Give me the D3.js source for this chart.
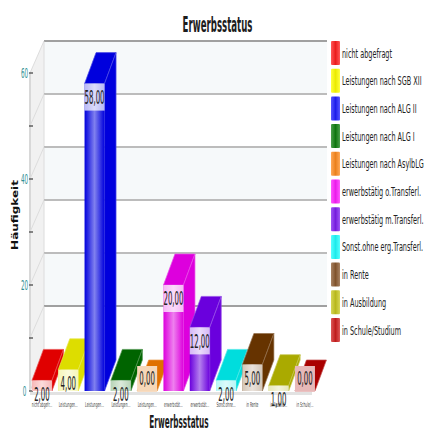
<!DOCTYPE html>
<html><head><meta charset="utf-8">
<script src="https://cdnjs.cloudflare.com/ajax/libs/d3/7.8.5/d3.min.js"></script>
<style>html,body{margin:0;padding:0;background:#fff}svg{display:block}text{font-family:"DejaVu Sans",sans-serif}</style>
</head><body><div id="chart"></div>
<script>
const categories = ["nicht abgefragt","Leistungen nach SGB XII","Leistungen nach ALG II","Leistungen nach ALG I","Leistungen nach AsylbLG","erwerbstätig o.Transferl.","erwerbstätig m.Transferl.","Sonst.ohne erg.Transferl.","in Rente","in Ausbildung","in Schule/Studium"];
const shortLabels = ["nicht abgefr...","Leistungen...","Leistungen...","Leistungen...","Leistungen...","erwerbstät...","erwerbstät...","Sonst.ohne...","in Rente","in Ausbild...","in Schule/..."];
const values = [2,4,58,2,0,20,12,2,5,1,0];
const barColors = ["#e00000","#dddd00","#0000dd","#006400","#e07000","#dd00dd","#6a00dd","#00dddd","#663300","#aaaa00","#aa0000"];
const swatchColors = ["#ff2020","#ffff00","#2020ff","#108010","#ff8c20","#ff20ff","#8020f0","#20ffff","#8b5a30","#c8c820","#d02020"];
const yTicks = [0,20,40,60];
const yMinorTicks = [10,30,50];
const bands = [[50,60],[30,40],[10,20]];
const gridValues = [10,20,30,40,50,60];

const W = 424, H = 432;
const svg = d3.select("#chart").append("svg").attr("width",W).attr("height",H);
const defs = svg.append("defs");

const y = d3.scaleLinear().domain([0,60]).range([391,73]);
const x = d3.scaleBand().domain(categories).range([28.8,318.1]).paddingInner(0.24).paddingOuter(0.12);
const legendY = d3.scalePoint().domain(categories).range([41,318]);

// box depth: how far back faces shift from the front plane
const wallDx = 14, wallDy = -32, barDx = 11.5, barDy = -31;
const wallLeft = 30, wallRight = 327 - wallDx;

// horizontally squeezed text, anchored at (px,py)
function label(parent, str, px, py, size, sx, opts={}) {
  return parent.append("text")
    .attr("transform",`translate(${px},${py}) rotate(${opts.rotate||0}) scale(${sx},1)`)
    .attr("text-anchor",opts.anchor||"middle")
    .attr("dominant-baseline","central")
    .attr("font-size",size)
    .attr("font-weight",opts.weight||"normal")
    .attr("fill",opts.fill||"#222")
    .text(str);
}

categories.forEach((c,i)=>{
  const col = barColors[i];
  const g = defs.append("linearGradient").attr("id","front"+i);
  const light = d3.interpolateRgb(col,"#fff")(0.5);
  [[0,col],[0.5,light],[1,col]].forEach(([o,k])=>g.append("stop").attr("offset",o).attr("stop-color",k));
  const s = defs.append("linearGradient").attr("id","swatch"+i);
  const sw = swatchColors[i];
  const pale = d3.interpolateRgb(sw,"#fff")(0.25);
  [[0,pale],[0.5,d3.interpolateRgb(sw,"#000")(0.08)],[1,pale]].forEach(([o,k])=>s.append("stop").attr("offset",o).attr("stop-color",k));
});

// back wall with alternating bands
const wall = svg.append("g");
wall.append("rect").attr("x",wallLeft+wallDx).attr("y",y(60)+wallDy).attr("width",wallRight-wallLeft).attr("height",y(0)-y(60)).attr("fill","#fff");
wall.selectAll(".band").data(bands).join("rect")
  .attr("x",wallLeft+wallDx).attr("width",wallRight-wallLeft)
  .attr("y",d=>y(d[1])+wallDy).attr("height",d=>y(d[0])-y(d[1]))
  .attr("fill","#f6f9fa");

// side wall
wall.append("path")
  .attr("d",d3.line()([[wallLeft,y(60)],[wallLeft+wallDx,y(60)+wallDy],[wallLeft+wallDx,y(0)+wallDy],[wallLeft,y(0)]]))
  .attr("fill","#f1f1f1");
wall.append("line").attr("x1",wallLeft).attr("x2",wallLeft).attr("y1",y(60)).attr("y2",y(0)).attr("stroke","#d8d8d8").attr("stroke-width",2);
wall.append("line").attr("x1",wallLeft+wallDx).attr("x2",wallLeft+wallDx).attr("y1",y(60)+wallDy).attr("y2",y(0)+wallDy).attr("stroke","#dcdcdc");

// gridlines across the back wall and down the side
wall.selectAll(".grid").data(gridValues).join("line")
  .attr("x1",wallLeft+wallDx).attr("x2",wallRight+wallDx)
  .attr("y1",d=>y(d)+wallDy).attr("y2",d=>y(d)+wallDy)
  .attr("stroke",d=>d===60||d===10?"#a0a0a0":"#bcbcbc").attr("stroke-width",1.8);
wall.selectAll(".side").data(gridValues.concat(0)).join("line")
  .attr("x1",wallLeft).attr("x2",wallLeft+wallDx)
  .attr("y1",d=>y(d)).attr("y2",d=>y(d)+wallDy)
  .attr("stroke","#dddddd");

// floor edge
wall.append("rect").attr("x",wallLeft).attr("y",y(0)+1).attr("width",wallRight-wallLeft-1).attr("height",3).attr("fill","#e2e2e2");

// y axis ticks and labels
const axis = svg.append("g");
axis.selectAll(".t").data(yTicks.concat(yMinorTicks)).join("line")
  .attr("x1",wallLeft-1).attr("x2",wallLeft+3)
  .attr("y1",d=>y(d)).attr("y2",d=>y(d))
  .attr("stroke","#555").attr("stroke-width",1.4);
yTicks.forEach(v=>label(axis,String(v),24.5,y(v),14,0.4,{fill:"#2f8f94"}));

// bars: top, side, front
const bars = svg.append("g");
categories.forEach((c,i)=>{
  const v = values[i], xl = x(c), xr = xl+x.bandwidth(), yt = y(v), yb = y(0);
  const col = barColors[i], edge = d3.interpolateRgb(col,"#fff")(0.3);
  const poly = pts => d3.line()(pts)+"Z";
  bars.append("path")
    .attr("d",poly([[xl,yt],[xr,yt],[xr+barDx,yt+barDy],[xl+barDx,yt+barDy]]))
    .attr("fill",col).attr("stroke",edge).attr("stroke-width",0.7);
  if (v>0) {
    bars.append("path")
      .attr("d",poly([[xr,yt],[xr+barDx,yt+barDy],[xr+barDx,yb+barDy],[xr,yb]]))
      .attr("fill",col).attr("stroke",edge).attr("stroke-width",0.7);
    bars.append("rect").attr("x",xl).attr("y",yt).attr("width",x.bandwidth()).attr("height",yb-yt).attr("fill",`url(#front${i})`);
  }
});

// value labels with translucent boxes sitting on each bar's front face
const valueLabels = svg.append("g");
categories.forEach((c,i)=>{
  const v = values[i], xl = x(c), w = x.bandwidth();
  const boxTop = v===0 ? y(0)-25 : y(v);
  const boxH = Math.min(27, y(0)-boxTop);
  if (v===0) {
    valueLabels.append("rect").attr("x",xl).attr("y",boxTop).attr("width",w).attr("height",boxH)
      .attr("fill",d3.interpolateRgb(barColors[i],"#fff")(0.72));
  } else {
    valueLabels.append("rect").attr("x",xl).attr("y",boxTop).attr("width",w).attr("height",boxH)
      .attr("fill","#fff").attr("fill-opacity",0.72);
  }
  const textY = v===0 ? y(0)-13 : y(v)+13.5;
  label(valueLabels,d3.format(".2f")(v).replace(".",","),xl+w/2,textY,20,0.35);
});

// category labels under the floor
const catLabels = svg.append("g");
categories.forEach((c,i)=>label(catLabels,shortLabels[i],x(c)+x.bandwidth()/2,404,7,0.42,{fill:"#444"}));

// titles
label(svg,"Erwerbsstatus",217.5,25,21,0.41,{weight:"bold",fill:"#1c1c1c"});
label(svg,"Erwerbsstatus",179,422,17,0.43,{weight:"bold",fill:"#1c1c1c"});
label(svg,"Häufigkeit",15.5,215,8,1.5,{rotate:-90,weight:"bold",fill:"#111"});

// legend
const legend = svg.append("g");
categories.forEach((c,i)=>{
  const ly = legendY(c);
  legend.append("rect").attr("x",331).attr("y",ly).attr("width",9).attr("height",24).attr("rx",1).attr("fill",`url(#swatch${i})`);
  label(legend,c,342,ly+11.5,13,0.5,{anchor:"start"});
});
</script></body></html>
